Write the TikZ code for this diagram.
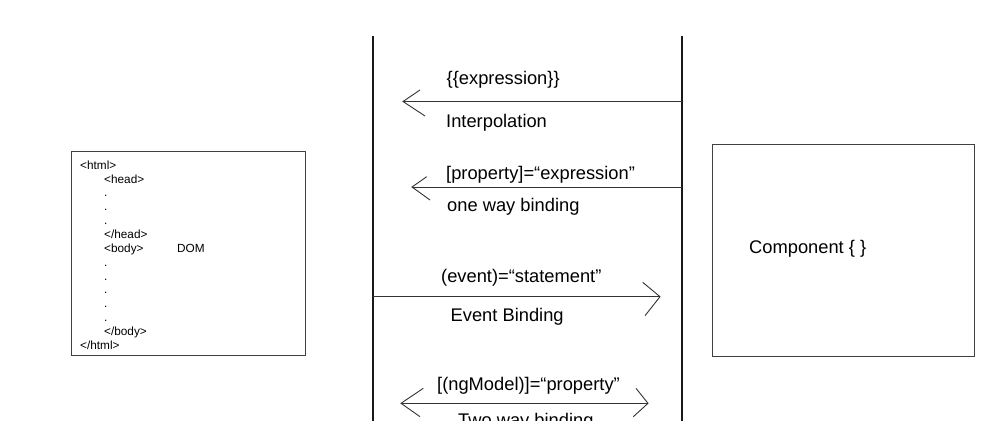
\documentclass[tikz,border=0pt]{standalone}
\usepackage{fontspec}
\setmainfont{Liberation Sans}
\begin{document}
\begin{tikzpicture}[x=1pt,y=-1pt,
  lbl/.style={font=\fontsize{18.3}{20}\selectfont, inner sep=0pt, anchor=base west},
  dom/.style={font=\fontsize{11.8}{13.85}\selectfont, inner sep=0pt, anchor=base west},
  box/.style={draw=black!75, line width=0.9pt},
  conn/.style={draw=black!80, line width=0.9pt},
  rail/.style={draw=black!90, line width=1.3pt}]
\useasboundingbox (0,0) rectangle (1000,420);
\clip (0,0) rectangle (1000,420);

% DOM box
\node[box, minimum width=234pt, minimum height=204pt, anchor=north west, inner sep=0pt] (dombox) at (71,151) {};
\node[dom] (l1) at (80,169.2) {<html>};
\node[dom] (l2) at (104,183.1) {<head>};
\node[dom] (l3) at (104,196.9) {.};
\node[dom] (l4) at (104,210.8) {.};
\node[dom] (l5) at (104,224.6) {.};
\node[dom] (l6) at (104,238.5) {</head>};
\node[dom] (l7) at (104,252.3) {<body>};
\node[dom] (domlbl) at (177,252.3) {DOM};
\node[dom] (l8) at (104,266.2) {.};
\node[dom] (l9) at (104,280.0) {.};
\node[dom] (l10) at (104,293.9) {.};
\node[dom] (l11) at (104,307.7) {.};
\node[dom] (l12) at (104,321.6) {.};
\node[dom] (l13) at (104,335.4) {</body>};
\node[dom] (l14) at (80,349.3) {</html>};

% Component box
\node[box, minimum width=262pt, minimum height=212pt, anchor=north west, inner sep=0pt] (comp) at (712,144) {};
\node[lbl] (complbl) at (749,253.5) {Component \{ \}};

% rails
\coordinate (r1t) at (373,36);
\coordinate (r1b) at (373,421);
\coordinate (r2t) at (682,36);
\coordinate (r2b) at (682,421);
\draw[rail] (r1t) -- (r1b);
\draw[rail] (r2t) -- (r2b);

% Interpolation
\coordinate (a1s) at (682,101.5);
\coordinate (a1t) at (403,101.5);
\draw[conn] (a1s) -- (a1t);
\draw[conn] (420,90) -- (a1t) -- (425,116);
\node[lbl] (t1a) at (446.5,84) {\{\{expression\}\}};
\node[lbl] (t1b) at (446,127) {Interpolation};

% one way binding
\coordinate (a2s) at (682,187);
\coordinate (a2t) at (412,187);
\draw[conn] (a2s) -- (a2t);
\draw[conn] (426.7,176.7) -- (a2t) -- (430,200);
\node[lbl] (t2a) at (446,179) {[property]=“expression”};
\node[lbl] (t2b) at (447,211.5) {one way binding};

% event binding
\coordinate (a3s) at (373,296.7);
\coordinate (a3t) at (660,296.7);
\draw[conn] (a3s) -- (a3t);
\draw[conn] (642.7,282.3) -- (a3t) -- (645,315.7);
\node[lbl] (t3a) at (441,282) {(event)=“statement”};
\node[lbl] (t3b) at (450.5,321.5) {Event Binding};

% two way binding
\coordinate (a4l) at (401,403.3);
\coordinate (a4r) at (648,403.3);
\draw[conn] (a4l) -- (a4r);
\draw[conn] (423.3,388.3) -- (a4l) -- (420,416.7);
\draw[conn] (636,388.3) -- (a4r) -- (633.3,416.7);
\node[lbl] (t4a) at (437,390.5) {[(ngModel)]=“property”};
\node[lbl] (t4b) at (458,426.5) {Two way binding};
\end{tikzpicture}
\end{document}
